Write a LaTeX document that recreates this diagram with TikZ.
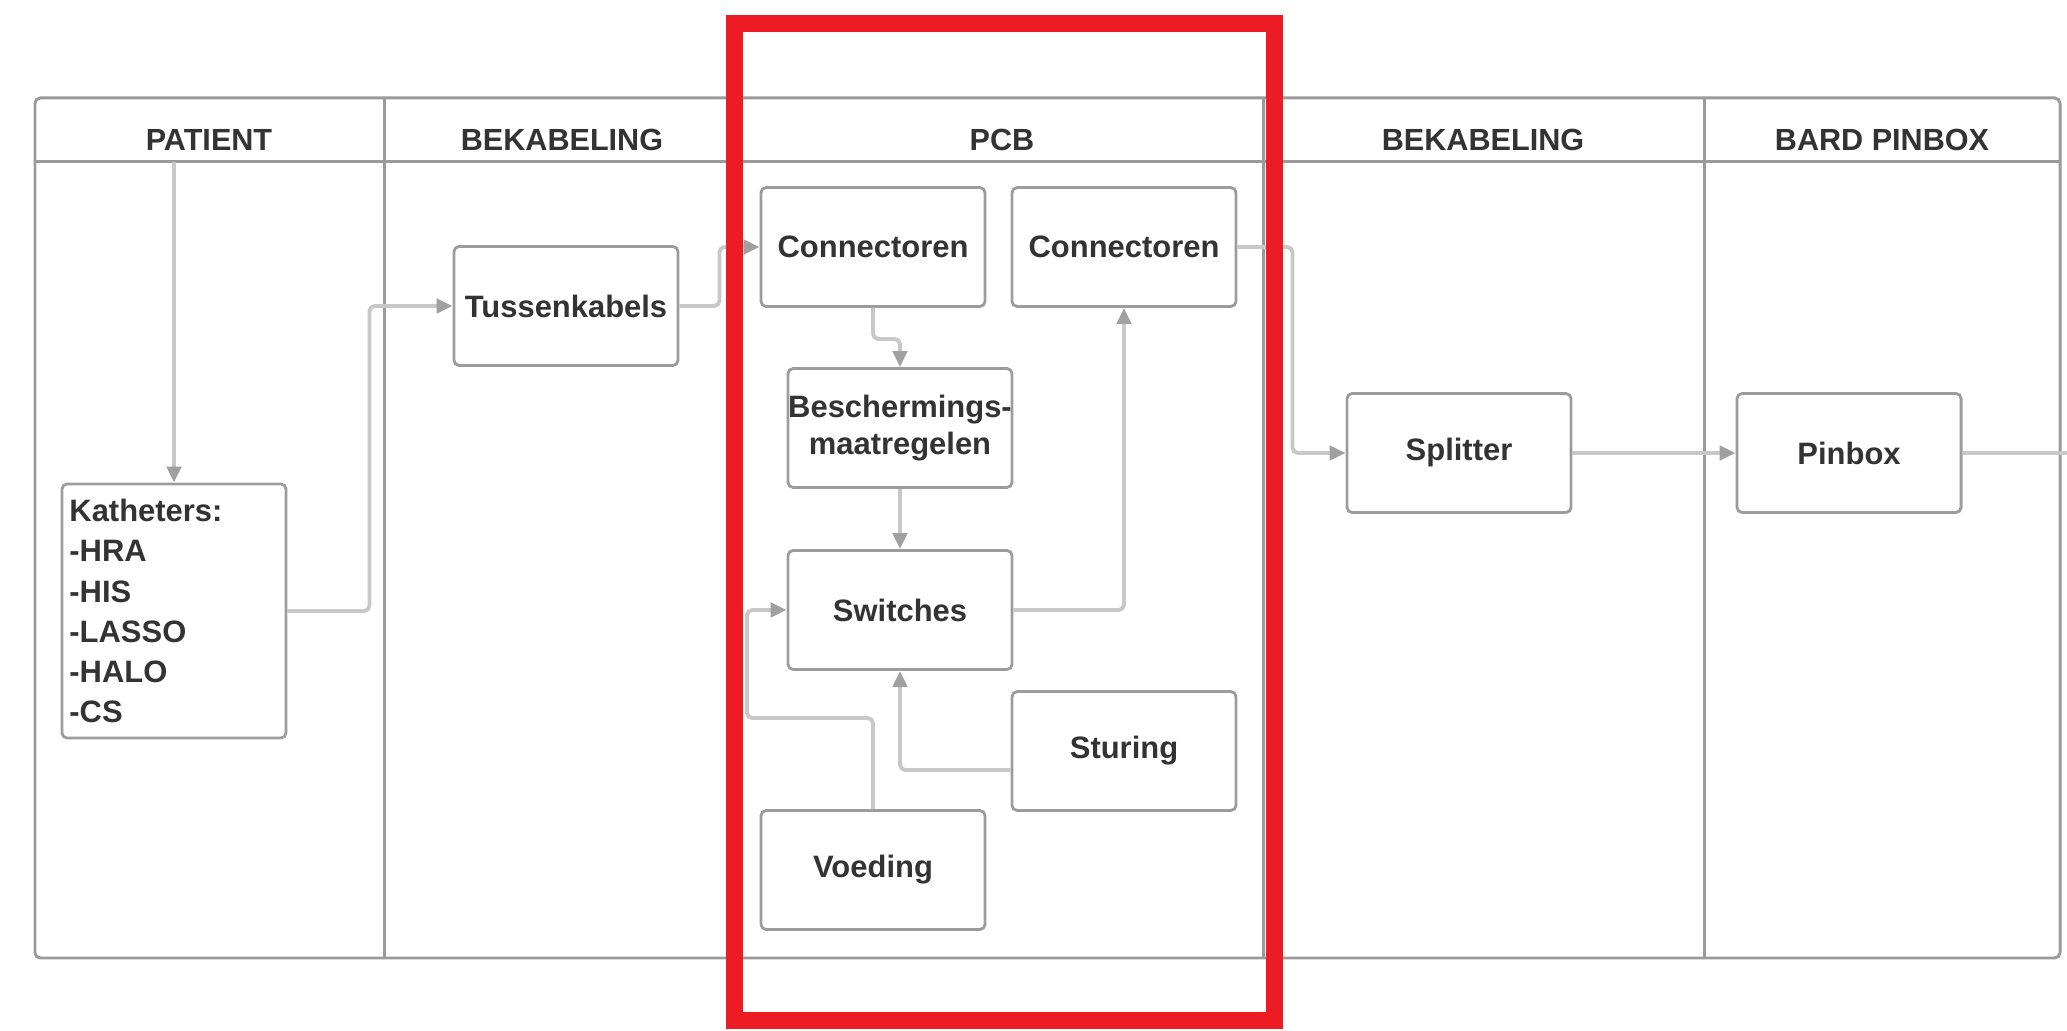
\documentclass[tikz,border=0pt]{standalone}
\usepackage{fontspec}
\setmainfont{Liberation Sans}
\usetikzlibrary{arrows.meta}
\definecolor{framegray}{HTML}{9A9A9A}
\definecolor{boxgray}{HTML}{9C9C9C}
\definecolor{linegray}{HTML}{C8C8C8}
\definecolor{tipgray}{HTML}{A0A0A0}
\definecolor{textgray}{HTML}{333333}
\definecolor{markred}{HTML}{ED1C24}

\begin{document}
\begin{tikzpicture}[x=0.01cm, y=-0.01cm,
    >={Triangle[length=4.5pt, width=4pt, color=tipgray]},
    block/.style={draw=boxgray, line width=0.8pt, rounded corners=1.5pt, fill=white,
        minimum width=2.24cm, minimum height=1.19cm, inner sep=0pt, align=center,
        text=textgray, font=\bfseries\fontsize{8.8}{10.5}\selectfont},
    head/.style={text=textgray, font=\bfseries\fontsize{8.7}{10}\selectfont},
    conn/.style={draw=linegray, line width=1.1pt, rounded corners=1.5pt}]
    \useasboundingbox (0,0) rectangle (2067,1031);

    % lanes
    \draw[framegray, line width=0.85pt, rounded corners=1.5pt] (35,98) rectangle (2060,958);
    \draw[framegray, line width=0.85pt] (35,162) -- (2060,162);
    \draw[framegray, line width=0.85pt] (384,98) -- (384,958);
    \draw[framegray, line width=0.85pt] (740,98) -- (740,958);
    \draw[framegray, line width=0.85pt] (1263,98) -- (1263,958);
    \draw[framegray, line width=0.85pt] (1704,98) -- (1704,958);
    \node[head] (hpat)   at (209,140)  {PATIENT};
    \node[head] (hkab)   at (562,140)  {BEKABELING};
    \node[head] (hpcb)   at (1002,140) {PCB};
    \node[head] (hkab2)  at (1483,140) {BEKABELING};
    \node[head] (hbard)  at (1882,140) {BARD PINBOX};

    % blocks
    \node[block, minimum height=2.54cm, text width=2.09cm, inner xsep=0.07cm, align=left,
        font=\bfseries\fontsize{8.8}{11.4}\selectfont] (kath) at (174,611)
        {Katheters:\\-HRA\\-HIS\\-LASSO\\-HALO\\-CS};
    \node[block] (tuss)  at (566,306)  {Tussenkabels};
    \node[block] (con1)  at (873,247)  {Connectoren};
    \node[block] (con2)  at (1124,247) {Connectoren};
    \node[block] (besch) at (900,428)  {Beschermings-\\maatregelen};
    \node[block] (sw)    at (900,610)  {Switches};
    \node[block] (stur)  at (1124,751) {Sturing};
    \node[block] (voed)  at (873,870)  {Voeding};
    \node[block] (split) at (1459,453) {Splitter};
    \node[block] (pin)   at (1849,453) {Pinbox};
    \coordinate (pat) at (174,162);
    \coordinate (out) at (2067,453);

    % connections
    \draw[conn, ->] (pat) -- (kath.north);
    \draw[conn, ->] (kath.east) -- ++(82,0) |- (tuss.west);
    \draw[conn, ->] (tuss.east) -- ++(40,0) |- (con1.west);
    \draw[conn, ->] (con1.south) -- ++(0,31) -| (besch.north);
    \draw[conn, ->] (besch.south) -- (sw.north);
    \draw[conn, ->] (sw.east) -| (con2.south);
    \draw[conn, ->] ([yshift=-0.19cm]stur.west) -| (sw.south);
    \draw[conn, ->] (voed.north) -- ++(0,-91) -- ++(-126,0) |- (sw.west);
    \draw[conn, ->] (con2.east) -- ++(55,0) |- (split.west);
    \draw[conn, ->] (split.east) -- (pin.west);
    \draw[conn] (pin.east) -- (out);

    % marking
    \draw[markred, line width=0.17cm] (734.5,24) rectangle (1274.5,1020);
\end{tikzpicture}
\end{document}
